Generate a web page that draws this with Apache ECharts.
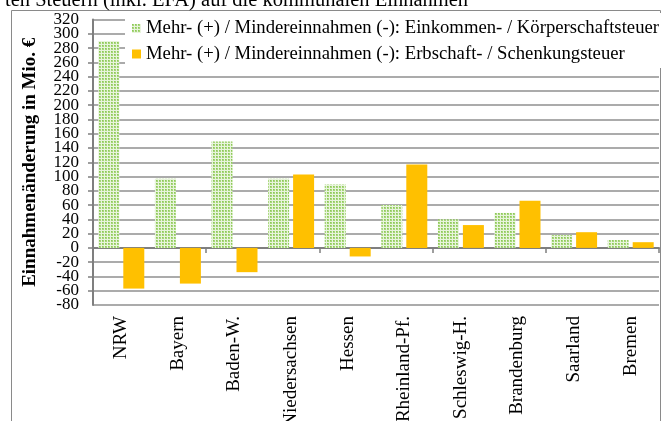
<!DOCTYPE html>
<html>
<head>
<meta charset="utf-8">
<script src="https://cdn.jsdelivr.net/npm/echarts@6/dist/echarts.min.js"></script>
<style>
html,body{margin:0;padding:0;background:#fff;}
#chart{width:664px;height:421px;}
</style>
</head>
<body>
<div id="chart"></div>
<script>
var categories = ['NRW', 'Bayern', 'Baden-W.', 'Niedersachsen', 'Hessen', 'Rheinland-Pf.', 'Schleswig-H.', 'Brandenburg', 'Saarland', 'Bremen'];
var einkommenKoerperschaft = [290, 97, 149, 97, 89, 60, 40, 49, 18, 11];
var erbschaftSchenkung = [-57, -50, -34, 103, -12, 117, 32, 66, 22, 8];
var seriesNames = ['Mehr- (+) / Mindereinnahmen (-): Einkommen- / Körperschaftsteuer', 'Mehr- (+) / Mindereinnahmen (-): Erbschaft- / Schenkungsteuer'];
var titleText = 'ten Steuern (inkl. EFA) auf die kommunalen Einnahmen';
var yAxisTitle = 'Einnahmenänderung in Mio. €';
var yMin = -80, yMax = 320, yStep = 20;

var tile = document.createElement('canvas');
tile.width = 3; tile.height = 3;
var c = tile.getContext('2d');
c.fillStyle = '#e8f4dc'; c.fillRect(0, 0, 3, 3);
c.fillStyle = '#a6d579'; c.fillRect(0, 0, 2, 2);
c.fillStyle = '#8cc956'; c.fillRect(0, 0, 1, 1);

var serif = '"Liberation Serif", "Times New Roman", serif';
var labelFont = {fontFamily: serif, fontSize: 17, color: '#000', margin: 14};
var chart = echarts.init(document.getElementById('chart'));
chart.setOption({
  animation: false,
  backgroundColor: '#fff',
  graphic: [
    {type: 'rect', silent: true, z: 0, shape: {x: 11.5, y: 10.5, width: 649, height: 440}, style: {fill: null, stroke: '#8a8a8a', lineWidth: 1}},
    {type: 'text', z: 0, x: 5, y: 1, style: {text: titleText, font: '20.5px ' + serif, fill: '#000', verticalAlign: 'middle', align: 'left'}}
  ],
  grid: {left: 93, right: 5, top: 19.5, bottom: 116, containLabel: false, outerBoundsMode: 'none'},
  legend: {
    orient: 'vertical', left: 125, top: 13, backgroundColor: '#fff',
    padding: [5.5, 4, 4, 7], itemGap: 5.5, itemWidth: 9, itemHeight: 9,
    textStyle: {fontFamily: serif, fontSize: 18.7, color: '#000', lineHeight: 20},
    data: seriesNames.map(function (n) { return {name: n, icon: 'rect'}; })
  },
  xAxis: [
    {type: 'category', data: categories, position: 'bottom',
     axisLine: {onZero: true, lineStyle: {color: '#7f7f7f', width: 2}},
     axisTick: {show: true, length: 5, lineStyle: {color: '#7f7f7f', width: 1.5}},
     axisLabel: {show: false}, splitLine: {show: false}},
    {type: 'category', data: categories, position: 'bottom',
     axisLine: {show: false, onZero: false}, axisTick: {show: false},
     axisLabel: {rotate: 90, margin: 11, fontFamily: serif, fontSize: 19, color: '#000', interval: 0}}
  ],
  yAxis: [
    {type: 'value', min: yMin, max: yMax, interval: yStep, position: 'left',
     name: yAxisTitle, nameLocation: 'middle', nameRotate: 90, nameGap: 53,
     nameTextStyle: {fontFamily: serif, fontSize: 19, fontWeight: 'bold', color: '#000'},
     axisLine: {show: true, lineStyle: {color: '#7f7f7f', width: 2}},
     axisTick: {show: true, length: 5, lineStyle: {color: '#7f7f7f', width: 1.5}},
     axisLabel: Object.assign({showMinLabel: false, showMaxLabel: false}, labelFont),
     splitLine: {show: true, lineStyle: {color: '#8f8f8f', width: 1.5}}},
    {type: 'value', min: yMin, max: yMax, interval: yStep, position: 'left', offset: 0,
     axisLine: {show: false}, axisTick: {show: false}, splitLine: {show: false},
     axisLabel: Object.assign({showMinLabel: true, showMaxLabel: true,
       formatter: function (v) { return (v === yMin || v === yMax) ? String(v) : ''; }}, labelFont)}
  ],
  series: [
    {name: seriesNames[0], type: 'bar', data: einkommenKoerperschaft, barWidth: 21, barGap: '19%',
     itemStyle: {color: {image: tile, repeat: 'repeat'}}},
    {name: seriesNames[1], type: 'bar', data: erbschaftSchenkung, barWidth: 21, barGap: '19%',
     itemStyle: {color: '#ffc000'}}
  ]
});
</script>
</body>
</html>
